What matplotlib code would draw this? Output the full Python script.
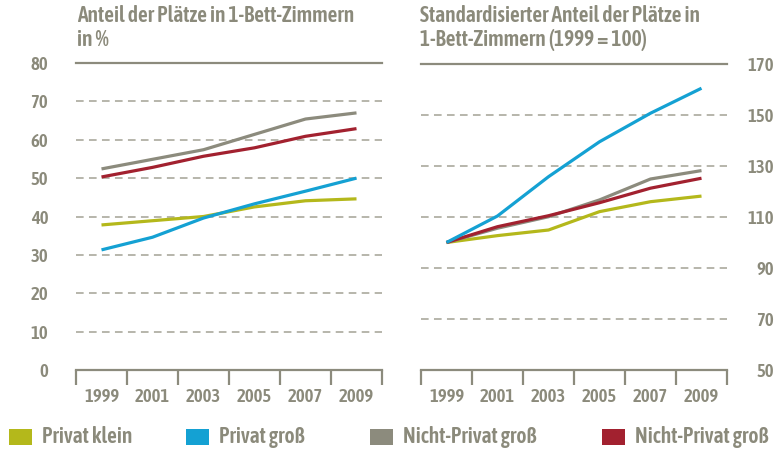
import matplotlib
matplotlib.use("Agg")
import matplotlib.pyplot as plt
from matplotlib.patches import Rectangle
from matplotlib.ticker import FixedLocator, NullFormatter

plt.rcParams['font.family'] = ['Asap Condensed', 'DejaVu Sans']
plt.rcParams['font.weight'] = 'semibold'

# Years shown on the x axis
years = [1999, 2001, 2003, 2005, 2007, 2009]

# Share of places in single rooms, in %
pct_privat_klein = [37.8, 38.9, 40.0, 42.5, 44.1, 44.6]
pct_privat_gross = [31.3, 34.6, 39.6, 43.3, 46.6, 50.0]
pct_nicht_privat_gross_grey = [52.4, 54.9, 57.4, 61.4, 65.4, 67.0]
pct_nicht_privat_gross_red = [50.3, 52.8, 55.7, 57.9, 60.9, 62.9]

# Standardised share (1999 = 100)
idx_privat_klein = [100.0, 102.7, 104.9, 112.1, 116.0, 118.2]
idx_privat_gross = [100.0, 110.4, 125.8, 139.5, 150.7, 160.5]
idx_nicht_privat_gross_grey = [100.0, 105.6, 110.1, 116.7, 124.9, 128.2]
idx_nicht_privat_gross_red = [100.0, 106.2, 110.5, 115.6, 121.3, 125.2]

left_yticks = [0, 10, 20, 30, 40, 50, 60, 70, 80]
right_yticks = [50, 70, 90, 110, 130, 150, 170]

series_labels = ["Privat klein", "Privat groß", "Nicht-Privat groß", "Nicht-Privat groß"]
series_colors = ["#b4b81b", "#14a1d3", "#8c8b7d", "#a2212f"]

TEXT = "#8b8a7b"
GRID = "#a3a295"
AXIS = "#8c8b7d"

W, H = 781, 451
fig = plt.figure(figsize=(W / 100, H / 100), dpi=100)


def px_axes(x0, x1, y0, y1):
    return fig.add_axes([x0 / W, 1 - y1 / H, (x1 - x0) / W, (y1 - y0) / H])


def style_axes(ax, yticks, right=False):
    ax.set_xlim(1998, 2010)
    ax.set_ylim(yticks[0], yticks[-1])
    for side in ("left", "right"):
        ax.spines[side].set_visible(False)
    ax.spines["top"].set_color(AXIS)
    ax.spines["top"].set_linewidth(1.6)
    ax.spines["bottom"].set_color(AXIS)
    ax.spines["bottom"].set_linewidth(1.6)
    for level in yticks[1:-1]:
        ax.axhline(level, color=GRID, lw=1.1, ls=(0, (5, 3.5)), zorder=1)
    # year boundaries as major ticks, year labels in between as minor ticks
    ax.xaxis.set_major_locator(FixedLocator(list(range(1998, 2011, 2))))
    ax.xaxis.set_major_formatter(NullFormatter())
    ax.xaxis.set_minor_locator(FixedLocator(years))
    ax.set_xticks(years, [str(y) for y in years], minor=True)
    ax.tick_params(axis="x", which="major", length=11, width=1.6, color=AXIS)
    ax.tick_params(axis="x", which="minor", length=0, pad=13, labelsize=13.5,
                   labelcolor=TEXT)
    ax.set_yticks(yticks)
    if right:
        ax.yaxis.tick_right()
        ax.tick_params(axis="y", length=0, pad=34, labelsize=13.5, labelcolor=TEXT)
        for lab in ax.get_yticklabels():
            lab.set_horizontalalignment("right")
    else:
        ax.tick_params(axis="y", length=0, pad=20, labelsize=13.5, labelcolor=TEXT)


ax1 = px_axes(76, 382, 63, 370)
ax2 = px_axes(421, 727, 64, 370)
style_axes(ax1, left_yticks)
style_axes(ax2, right_yticks, right=True)

left_series = [pct_privat_klein, pct_nicht_privat_gross_grey,
               pct_nicht_privat_gross_red, pct_privat_gross]
right_series = [idx_privat_klein, idx_nicht_privat_gross_grey,
                idx_nicht_privat_gross_red, idx_privat_gross]
draw_colors = [series_colors[0], series_colors[2], series_colors[3], series_colors[1]]
for vals, col in zip(left_series, draw_colors):
    ax1.plot(years, vals, color=col, lw=2.3, solid_capstyle="butt", zorder=3)
for vals, col in zip(right_series, draw_colors):
    ax2.plot(years, vals, color=col, lw=2.3, solid_capstyle="butt", zorder=3)

# panel titles
title_kw = dict(ha="left", va="top", fontsize=15.5, color=TEXT, linespacing=1.1)
fig.text(77 / W, 1 - 5 / H, "Anteil der Plätze in 1-Bett-Zimmern\nin %", **title_kw)
fig.text(420 / W, 1 - 5 / H,
         "Standardisierter Anteil der Plätze in\n1-Bett-Zimmern (1999 = 100)", **title_kw)

# legend row
legend_x = [9, 186, 370, 602]
for x, lab, col in zip(legend_x, series_labels, series_colors):
    fig.add_artist(Rectangle((x / W, 1 - 445 / H), 23 / W, 16 / H,
                             transform=fig.transFigure, color=col, lw=0))
    fig.text((x + 33) / W, 1 - 437 / H, lab, ha="left", va="center",
             fontsize=15.5, color=TEXT)

fig.savefig("out.png", dpi=100)
